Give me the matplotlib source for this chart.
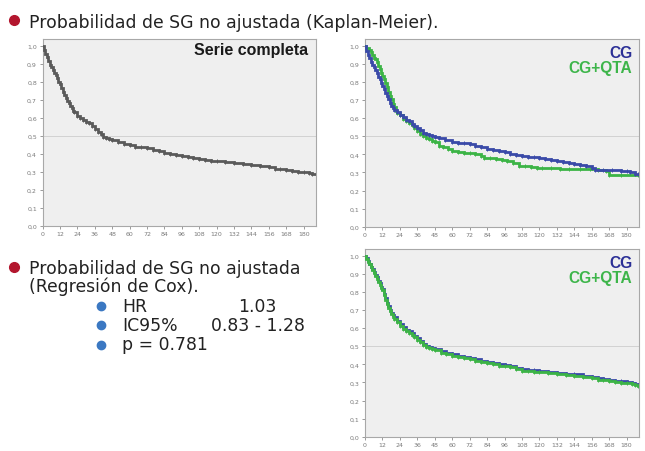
import matplotlib
matplotlib.use("Agg")
import matplotlib.pyplot as plt
from matplotlib.lines import Line2D
from matplotlib.ticker import FuncFormatter

# ---------------- data ----------------
# Panel 1: serie completa
t_all = [0,1,2,3,4,5,6,7,8,9,10,11,12,13,14,15,16,17,18,19,20,21,22,24,26,28,30,32,34,36,38,40,42,44,46,48,52,56,60,64,68,72,76,80,84,88,92,96,100,104,108,112,116,120,126,132,138,144,150,156,160,164,168,172,176,180,184,186,189]
s_all = [1.0,0.975,0.955,0.935,0.915,0.895,0.88,0.865,0.85,0.835,0.82,0.80,0.785,0.765,0.745,0.725,0.71,0.695,0.68,0.665,0.655,0.64,0.63,0.61,0.598,0.585,0.578,0.568,0.555,0.54,0.52,0.507,0.495,0.488,0.48,0.474,0.465,0.455,0.447,0.44,0.435,0.43,0.422,0.414,0.406,0.40,0.395,0.39,0.383,0.376,0.37,0.366,0.362,0.36,0.355,0.349,0.345,0.34,0.333,0.325,0.316,0.315,0.31,0.302,0.30,0.30,0.295,0.288,0.285]

# Panel 2: Kaplan-Meier por grupo
t_cg = [0,1,2,3,4,5,6,7,8,9,10,11,12,13,14,15,16,17,18,19,20,22,24,26,28,30,32,34,36,38,40,42,44,46,48,51,55,60,64,68,72,76,80,84,88,92,96,100,104,108,112,116,120,124,128,132,136,140,144,148,152,156,158,164,170,176,180,182,186,188]
s_cg = [1.0,0.97,0.95,0.93,0.91,0.895,0.88,0.865,0.85,0.83,0.815,0.795,0.78,0.76,0.74,0.72,0.705,0.685,0.668,0.655,0.645,0.632,0.62,0.607,0.592,0.582,0.57,0.558,0.545,0.532,0.52,0.512,0.505,0.50,0.495,0.488,0.478,0.47,0.465,0.46,0.455,0.448,0.44,0.432,0.425,0.418,0.412,0.404,0.396,0.39,0.387,0.383,0.378,0.374,0.368,0.362,0.357,0.351,0.346,0.34,0.334,0.326,0.316,0.314,0.312,0.31,0.308,0.30,0.29,0.29]

t_qta = [0,1,2,3,4,5,6,7,8,9,10,11,12,13,14,15,16,17,18,19,20,21,22,24,26,28,30,32,34,36,38,40,42,44,46,48,51,54,57,60,64,68,72,76,80,82,86,90,94,98,102,106,110,114,118,122,128,134,140,148,155,160,166,168,176,188]
s_qta = [1.0,0.99,0.985,0.975,0.965,0.95,0.935,0.925,0.91,0.89,0.87,0.85,0.835,0.815,0.795,0.77,0.745,0.725,0.705,0.68,0.66,0.64,0.63,0.615,0.597,0.585,0.575,0.56,0.545,0.53,0.515,0.50,0.49,0.482,0.475,0.468,0.448,0.44,0.432,0.418,0.412,0.41,0.405,0.40,0.39,0.38,0.378,0.376,0.37,0.364,0.35,0.335,0.333,0.33,0.326,0.325,0.322,0.321,0.32,0.32,0.318,0.312,0.31,0.285,0.283,0.283]

# Panel 3: regresion de Cox
t_cox = [0,1,2,3,4,5,6,7,8,9,10,11,12,13,14,15,16,17,18,19,20,22,24,26,28,30,32,34,36,38,40,42,44,46,48,52,56,60,64,68,72,76,80,84,88,92,96,100,104,108,112,116,120,126,132,138,144,150,156,160,164,168,172,176,180,184,186,188]
s_cox_cg = [1.0,0.985,0.97,0.955,0.94,0.925,0.91,0.895,0.88,0.862,0.848,0.83,0.815,0.79,0.765,0.74,0.72,0.70,0.685,0.67,0.66,0.64,0.622,0.605,0.592,0.582,0.572,0.558,0.545,0.53,0.513,0.50,0.495,0.49,0.484,0.472,0.463,0.455,0.448,0.44,0.434,0.428,0.42,0.413,0.406,0.40,0.396,0.39,0.38,0.372,0.368,0.366,0.364,0.358,0.353,0.348,0.344,0.337,0.331,0.322,0.32,0.315,0.31,0.306,0.304,0.298,0.292,0.288]
s_cox_qta = [1.0,0.984,0.968,0.952,0.936,0.92,0.905,0.89,0.874,0.856,0.841,0.823,0.808,0.783,0.757,0.732,0.712,0.692,0.677,0.662,0.652,0.632,0.614,0.597,0.584,0.574,0.564,0.55,0.537,0.522,0.506,0.493,0.488,0.483,0.477,0.465,0.456,0.448,0.441,0.433,0.427,0.421,0.413,0.406,0.399,0.393,0.389,0.383,0.373,0.365,0.361,0.359,0.357,0.351,0.346,0.341,0.337,0.330,0.324,0.315,0.313,0.308,0.303,0.299,0.297,0.291,0.285,0.281]

x_ticks = list(range(0, 181, 12))
y_ticks = [0.0,0.1,0.2,0.3,0.4,0.5,0.6,0.7,0.8,0.9,1.0]

title_top = "Probabilidad de SG no ajustada (Kaplan-Meier)."
title_bottom = ["Probabilidad de SG no ajustada", "(Regresión de Cox)."]
stats_labels = ["HR", "IC95%", "p = 0.781"]
stats_values = ["1.03", "0.83 - 1.28", ""]

# ---------------- styles ----------------
W, H = 645, 452
GREY = "#5a5a5a"
BLUE_LINE = "#3a4aa8"
GREEN_LINE = "#3cb446"
BLUE_TXT = "#2b2f96"
GREEN_TXT = "#3db54a"
RED = "#b3162e"
BULLET_BLUE = "#3b78c2"

fig = plt.figure(figsize=(W/100, H/100), dpi=100)
fig.patch.set_facecolor("white")

def rect(l, t, r, b):
    return [l/W, 1 - b/H, (r-l)/W, (b-t)/H]

def style_ax(ax):
    ax.set_facecolor("#efefef")
    ax.set_xlim(0, 188.5)
    ax.set_ylim(0, 1.04)
    ax.set_xticks(x_ticks)
    ax.set_yticks(y_ticks)
    ax.yaxis.set_major_formatter(FuncFormatter(lambda v, p: f"{v:.1f}".replace(".", ",")))
    ax.tick_params(axis="both", labelsize=4.5, colors="#8a8a8a", length=2.5, width=0.6, pad=1.5)
    for lab in ax.get_xticklabels() + ax.get_yticklabels():
        lab.set_color("#7a7a7a")
    for sp in ax.spines.values():
        sp.set_color("#a8a8a8")
        sp.set_linewidth(0.8)
    ax.axhline(0.5, color="#d2d2d2", lw=0.7, zorder=1)

def km(ax, t, s, color, lw=2.0):
    ax.plot(t, s, drawstyle="steps-post", color=color, lw=lw, zorder=3,
            solid_joinstyle="miter")
    ax.plot(t[20:], s[20:], ls="none", marker="|", ms=2.2, mew=0.7, color=color, zorder=3)

ax1 = fig.add_axes(rect(42.5, 39.5, 316, 226.7))
style_ax(ax1)
km(ax1, t_all, s_all, GREY)
ax1.text(0.97, 0.94, "Serie completa", transform=ax1.transAxes, ha="right", va="center",
         fontsize=11.5, fontweight="bold", family="Liberation Sans", color="#1a1a1a")

ax2 = fig.add_axes(rect(365, 39.5, 639, 227.7))
style_ax(ax2)
km(ax2, t_qta, s_qta, GREEN_LINE)
km(ax2, t_cg, s_cg, BLUE_LINE)

ax3 = fig.add_axes(rect(365, 249.5, 639, 437.7))
style_ax(ax3)
km(ax3, t_cox, s_cox_cg, BLUE_LINE)
km(ax3, t_cox, s_cox_qta, GREEN_LINE)

for ax in (ax2, ax3):
    ax.text(0.975, 0.925, "CG", transform=ax.transAxes, ha="right", va="center",
            fontsize=11.2, fontweight="bold", family="Liberation Sans", color=BLUE_TXT)
    ax.text(0.975, 0.847, "CG+QTA", transform=ax.transAxes, ha="right", va="center",
            fontsize=11.2, fontweight="bold", family="Liberation Sans", color=GREEN_TXT)

def fx(x): return x / W
def fy(y): return 1 - y / H

def bullet(x, y, color, ms):
    fig.add_artist(Line2D([fx(x)], [fy(y)], marker="o", ms=ms, color=color,
                          transform=fig.transFigure, ls="none"))

FONT = "DejaVu Sans"
TS = 12.4

bullet(14, 21, RED, 7)
fig.text(fx(29), fy(27.5), title_top, fontsize=TS, family=FONT, color="#222222", va="baseline")

bullet(14, 268, RED, 7)
fig.text(fx(29), fy(273.5), title_bottom[0], fontsize=TS, family=FONT, color="#222222", va="baseline")
fig.text(fx(29), fy(292), title_bottom[1], fontsize=TS, family=FONT, color="#222222", va="baseline")

rows_y = [311.5, 331, 350.5]
value_right = [277, 305, 0]
for lab, val, yb, xr in zip(stats_labels, stats_values, rows_y, value_right):
    bullet(101, yb - 5, BULLET_BLUE, 6)
    fig.text(fx(122), fy(yb), lab, fontsize=TS, family=FONT, color="#222222", va="baseline")
    if val:
        fig.text(fx(xr), fy(yb), val, fontsize=TS, family=FONT, color="#222222",
                 va="baseline", ha="right")

fig.savefig("out.png", dpi=100, facecolor="white")
